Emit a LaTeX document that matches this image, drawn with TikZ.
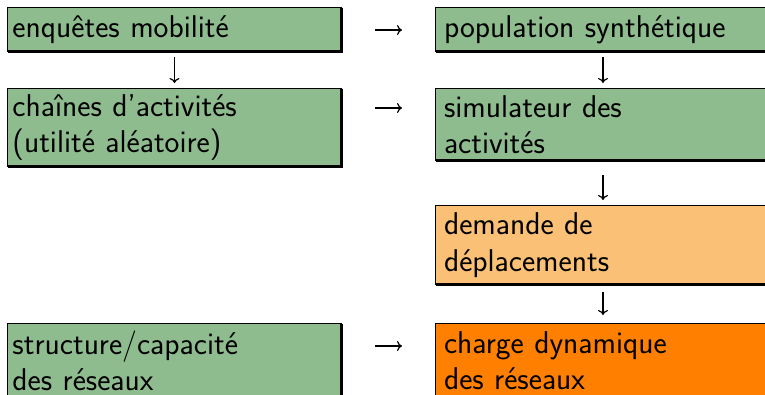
\documentclass[tikz,border=0pt]{standalone}
\usetikzlibrary{arrows.meta}
\definecolor{cellgreen}{RGB}{143,188,143}
\definecolor{cellpeach}{RGB}{250,192,118}
\definecolor{cellorange}{RGB}{255,128,0}
\begin{document}
\begin{tikzpicture}[x=1pt,y=-1pt,
  every node/.style={font=\sffamily\fontsize{31.5}{36.5}\selectfont},
  cell/.style={draw=black, line width=1.2pt, anchor=north west, align=left,
               inner ysep=0pt, outer sep=0pt},
  leftcell/.style={cell, inner xsep=5pt, text width=324pt},
  rightcell/.style={cell, inner xsep=8.5pt, text width=318pt},
  heavyedge/.style={line width=3.5pt, line join=miter},
  flow/.style={line width=1.2pt,
               -{Computer Modern Rightarrow[length=5pt,width=10pt]}}]
\useasboundingbox (0,0) rectangle (765,394);

% cells
\node[leftcell,  fill=cellgreen,  minimum height=44pt]   (enq)   at (7.5,7.5)     {enquêtes mobilité};
\node[rightcell, fill=cellgreen,  minimum height=44pt]   (pop)   at (435.5,7.5)   {population synthétique};
\node[leftcell,  fill=cellgreen,  minimum height=78pt]   (chain) at (7.5,88.5)    {chaînes d’activités\\(utilité aléatoire)};
\node[rightcell, fill=cellgreen,  minimum height=72pt]   (sim)   at (435.5,88.5)  {simulateur des\\activités};
\node[rightcell, fill=cellpeach,  minimum height=79pt]   (dem)   at (435.5,205.5) {demande de\\déplacements};
\node[leftcell,  fill=cellgreen,  minimum height=74.5pt] (net)   at (7.5,323.5)   {structure/capacité\\des réseaux};
\node[rightcell, fill=cellorange, minimum height=74.5pt] (load)  at (435.5,323.5) {charge dynamique\\des réseaux};

% heavy right and bottom edges
\foreach \n in {enq,pop,chain,sim,dem,net,load}
  \draw[heavyedge] (\n.north east) -- (\n.south east) -- (\n.south west);

% horizontal arrows
\draw[flow, shorten <=33.5pt, shorten >=33.5pt]
  ([yshift=-22.5pt]enq.north east) -- ([yshift=-22.5pt]pop.north west);
\draw[flow, shorten <=33.5pt, shorten >=33.5pt]
  ([yshift=-19.5pt]chain.north east) -- ([yshift=-19.5pt]sim.north west);
\draw[flow, shorten <=33.5pt, shorten >=33.5pt]
  ([yshift=-22.5pt]net.north east) -- ([yshift=-22.5pt]load.north west);

% vertical arrows
\draw[flow, shorten <=5.5pt, shorten >=5.5pt] (enq.south) -- (chain.north);
\draw[flow, shorten <=5.5pt, shorten >=5.5pt] (pop.south) -- (sim.north);
\draw[flow, shorten <=14.5pt, shorten >=5.5pt] (sim.south) -- (dem.north);
\draw[flow, shorten <=7.5pt, shorten >=8.5pt] (dem.south) -- (load.north);
\end{tikzpicture}
\end{document}
